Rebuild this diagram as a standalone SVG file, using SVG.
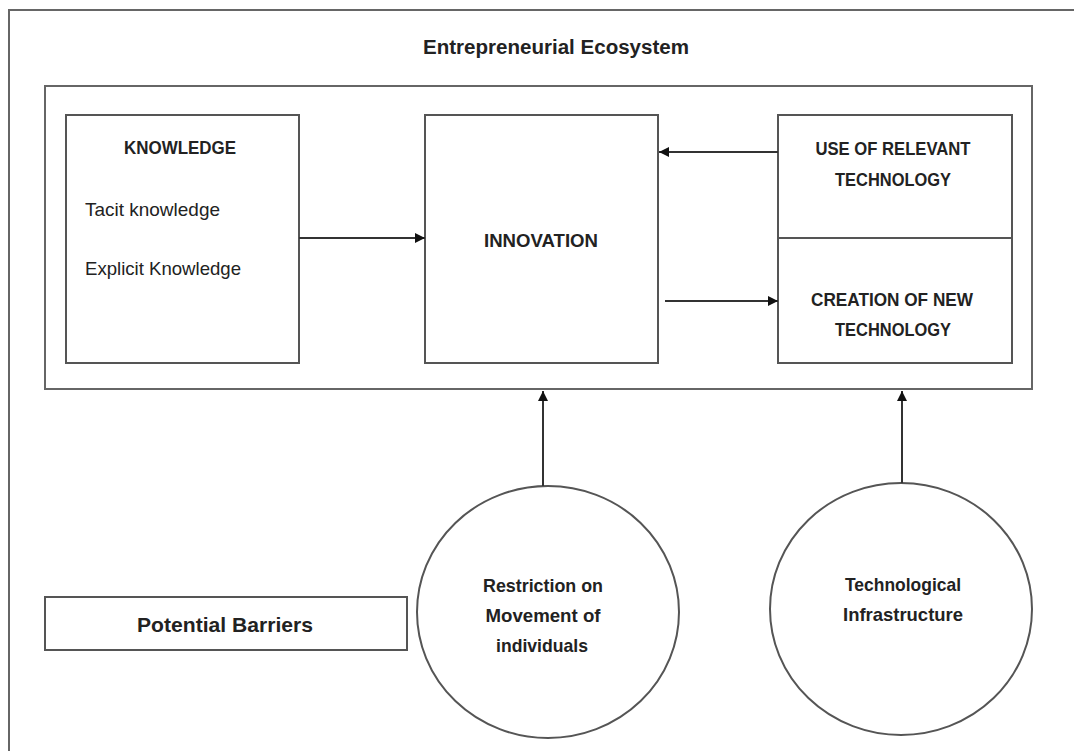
<svg xmlns="http://www.w3.org/2000/svg" width="1074" height="751" viewBox="0 0 1074 751">
<defs>
<marker id="arr" viewBox="0 0 10 10" refX="10" refY="5" markerWidth="10" markerHeight="10" markerUnits="userSpaceOnUse" orient="auto">
<path d="M0,0 L10,5 L0,10 z" fill="#111"/>
</marker>
<style>
.box{fill:#fff;stroke:#555;stroke-width:2}
.frame{fill:none;stroke:#666;stroke-width:2}
.conn{stroke:#333;stroke-width:2;fill:none;marker-end:url(#arr)}
text{font-family:"Liberation Sans",Arial,sans-serif;fill:#222}
.b{font-weight:bold;font-size:19px}
.r{font-size:19px}
.c{text-anchor:middle}
</style>
</defs>
<rect width="1074" height="751" fill="#fff"/>
<g id="ecosystem">
<rect class="frame" x="9" y="10" width="1080" height="760"/>
<text class="b c" x="556" y="54" style="font-size:20px" textLength="266" lengthAdjust="spacingAndGlyphs">Entrepreneurial Ecosystem</text>
<rect class="frame" x="45" y="86" width="987" height="303"/>
</g>
<g id="knowledge">
<rect class="box" x="66" y="115" width="233" height="248"/>
<text class="b c" x="180" y="154" textLength="112" lengthAdjust="spacingAndGlyphs">KNOWLEDGE</text>
<text class="r" x="85" y="216" textLength="135" lengthAdjust="spacingAndGlyphs">Tacit knowledge</text>
<text class="r" x="85" y="275" textLength="156" lengthAdjust="spacingAndGlyphs">Explicit Knowledge</text>
</g>
<g id="innovation">
<rect class="box" x="425" y="115" width="233" height="248"/>
<text class="b c" x="541" y="247" textLength="114" lengthAdjust="spacingAndGlyphs">INNOVATION</text>
</g>
<g id="technology">
<rect class="box" x="778" y="115" width="234" height="248"/>
<line x1="778" y1="238" x2="1012" y2="238" stroke="#555" stroke-width="2"/>
<text class="b c" x="893" y="155" textLength="155" lengthAdjust="spacingAndGlyphs">USE OF RELEVANT</text>
<text class="b c" x="893" y="186" textLength="116" lengthAdjust="spacingAndGlyphs">TECHNOLOGY</text>
<text class="b c" x="892" y="306" textLength="162" lengthAdjust="spacingAndGlyphs">CREATION OF NEW</text>
<text class="b c" x="893" y="336" textLength="116" lengthAdjust="spacingAndGlyphs">TECHNOLOGY</text>
</g>
<g id="barriers">
<rect class="box" x="45" y="597" width="362" height="53"/>
<text class="b c" x="225" y="632" style="font-size:21px" textLength="176" lengthAdjust="spacingAndGlyphs">Potential Barriers</text>
</g>
<g id="restriction">
<ellipse class="box" cx="548" cy="612" rx="131" ry="126"/>
<text class="b c" x="543" y="592" textLength="120" lengthAdjust="spacingAndGlyphs">Restriction on</text>
<text class="b c" x="543" y="622" textLength="115" lengthAdjust="spacingAndGlyphs">Movement of</text>
<text class="b c" x="542" y="652" textLength="92" lengthAdjust="spacingAndGlyphs">individuals</text>
</g>
<g id="infrastructure">
<ellipse class="box" cx="901" cy="609" rx="131" ry="126"/>
<text class="b c" x="903" y="591" textLength="116" lengthAdjust="spacingAndGlyphs">Technological</text>
<text class="b c" x="903" y="621" textLength="120" lengthAdjust="spacingAndGlyphs">Infrastructure</text>
</g>
<g id="connectors">
<line class="conn" x1="299" y1="238" x2="425" y2="238"/>
<line class="conn" x1="778" y1="152" x2="659" y2="152"/>
<line class="conn" x1="665" y1="301" x2="778" y2="301"/>
<line class="conn" x1="543" y1="486" x2="543" y2="391"/>
<line class="conn" x1="902" y1="483" x2="902" y2="391"/>
</g>
</svg>
